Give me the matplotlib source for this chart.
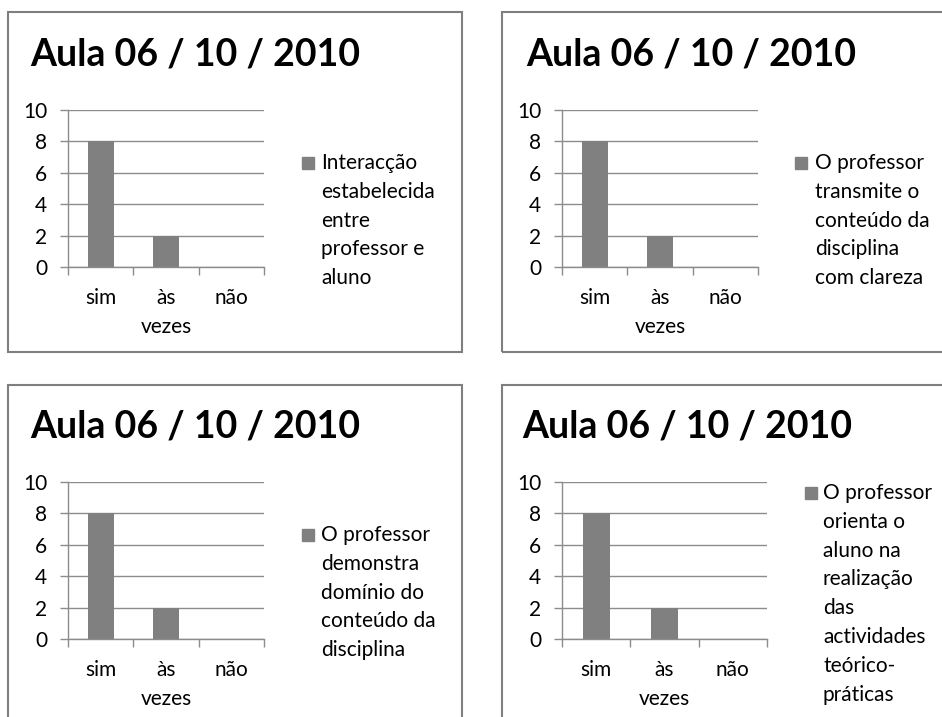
import matplotlib
matplotlib.use('Agg')
import matplotlib.pyplot as plt
from matplotlib.patches import Rectangle

plt.rcParams['font.family'] = ['Lato', 'DejaVu Sans']

titulo = 'Aula 06 / 10 / 2010'
categorias = ['sim', 'às\nvezes', 'não']
valores = [[8, 2, 0], [8, 2, 0], [8, 2, 0], [8, 2, 0]]
legendas = ['Interacção\nestabelecida\nentre\nprofessor e\naluno',
            'O professor\ntransmite o\nconteúdo da\ndisciplina\ncom clareza',
            'O professor\ndemonstra\ndomínio do\nconteúdo da\ndisciplina',
            'O professor\norienta o\naluno na\nrealização\ndas\nactividades\nteórico-\npráticas']
yticks = [0, 2, 4, 6, 8, 10]

W, H = 942, 717
fig = plt.figure(figsize=(W / 100, H / 100), dpi=100)

def fx(x): return x / W
def fy(y): return 1 - y / H

# layout in pixels: border box, plot area, title pos, legend pos
paineis = [
    dict(borda=(8, 12, 462, 352), area=(68, 110, 264, 267), tit=(30, 65), leg=(302, 321, 163)),
    dict(borda=(502, 12, 1000, 352), area=(562, 110, 758, 267), tit=(526, 65), leg=(795, 815, 163)),
    dict(borda=(8, 385, 462, 800), area=(68, 482, 264, 639), tit=(30, 437), leg=(302, 321, 535)),
    dict(borda=(502, 385, 1000, 800), area=(562, 482, 767, 639), tit=(522, 437), leg=(805, 823, 493)),
]

cinza = '#808080'
grade = '#8c8c8c'
fs = 15
esp = 1.55

for p, vals, leg in zip(paineis, valores, legendas):
    x0, y0, x1, y1 = p['borda']
    fig.patches.append(Rectangle((fx(x0), fy(y1)), fx(x1 - x0), (y1 - y0) / H,
                                 transform=fig.transFigure, fill=False,
                                 edgecolor='#7f7f7f', lw=1.5))
    fig.text(fx(p['tit'][0]), fy(p['tit'][1]), titulo, fontsize=27,
             fontweight='bold', ha='left', va='baseline')

    a0, b0, a1, b1 = p['area']
    ax = fig.add_axes([fx(a0), fy(b1), fx(a1 - a0), (b1 - b0) / H])
    ax.bar(range(len(categorias)), vals, width=0.4, color=cinza, zorder=2)
    ax.set_xlim(-0.5, 2.5)
    ax.set_ylim(0, 10)
    ax.set_yticks(yticks)
    ax.set_xticks(range(len(categorias)))
    ax.set_xticklabels(categorias, linespacing=esp)
    ax.set_xticks([-0.5, 0.5, 1.5, 2.5], minor=True)
    ax.tick_params(axis='x', which='major', length=0, pad=15, labelsize=fs)
    ax.tick_params(axis='x', which='minor', length=6, width=1, color=grade, direction='out')
    ax.tick_params(axis='y', length=6, width=1, color=grade, direction='out', pad=9, labelsize=fs)
    ax.yaxis.grid(True, color=grade, lw=1, zorder=0)
    ax.set_axisbelow(True)
    for s in ['top', 'right']:
        ax.spines[s].set_visible(False)
    for s in ['left', 'bottom']:
        ax.spines[s].set_color(grade)
        ax.spines[s].set_linewidth(1)

    qx, tx, ly = p['leg']
    fig.patches.append(Rectangle((fx(qx), fy(ly + 6)), fx(12), 12 / H,
                                 transform=fig.transFigure, color=cinza))
    fig.text(fx(tx), fy(ly - 10), leg, fontsize=fs, ha='left', va='top', linespacing=esp)

fig.savefig('out.png', dpi=100)
